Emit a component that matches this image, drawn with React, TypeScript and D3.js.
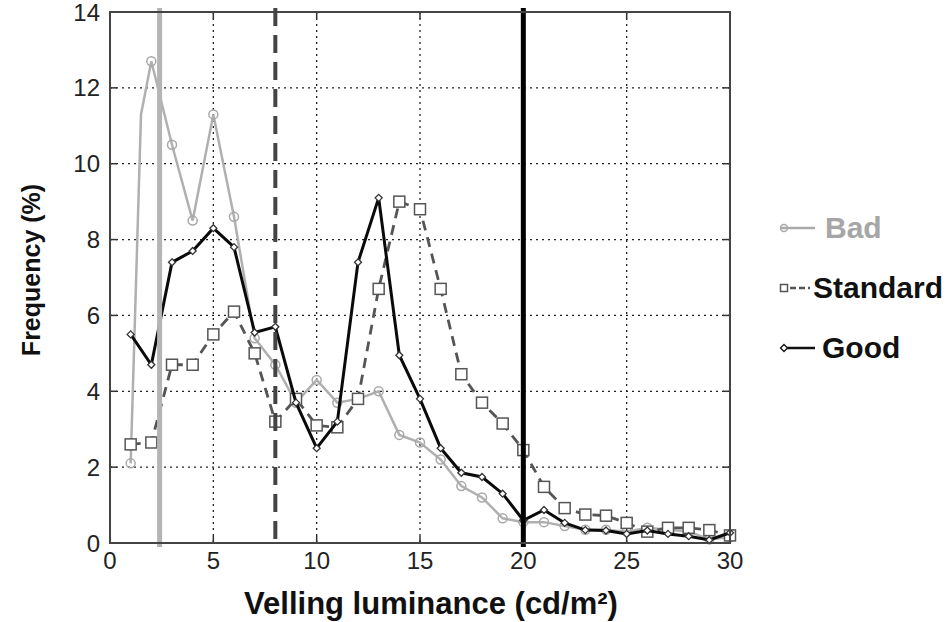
import React from "react";
import * as d3 from "d3";

// x positions (cd/m2) and frequencies (%)
const xs = [1, 2, 3, 4, 5, 6, 7, 8, 9, 10, 11, 12, 13, 14, 15, 16, 17, 18, 19, 20, 21, 22, 23, 24, 25, 26, 27, 28, 29, 30];

const bad = [2.1, 12.7, 10.5, 8.5, 11.3, 8.6, 5.4, 4.7, 3.7, 4.3, 3.7, 3.8, 4.0, 2.85, 2.65, 2.2, 1.5, 1.2, 0.65, 0.55, 0.55, 0.45, 0.35, 0.35, 0.3, 0.4, 0.35, 0.3, 0.1, 0.15];
const standard = [2.6, 2.65, 4.7, 4.7, 5.5, 6.1, 5.0, 3.2, 3.8, 3.1, 3.05, 3.8, 6.7, 9.0, 8.8, 6.7, 4.45, 3.7, 3.15, 2.45, 1.48, 0.92, 0.75, 0.72, 0.53, 0.3, 0.4, 0.4, 0.34, 0.2];
const good = [5.5, 4.7, 7.4, 7.7, 8.3, 7.8, 5.55, 5.7, 3.7, 2.5, 3.2, 7.4, 9.1, 4.95, 3.8, 2.5, 1.85, 1.74, 1.3, 0.6, 0.87, 0.53, 0.34, 0.33, 0.24, 0.33, 0.24, 0.18, 0.08, 0.27];

// the steep rise of "Bad" between 1 and 2 has one extra vertex
const badRise = { x: 1.5, y: 11.3 };

const xTicks = [0, 5, 10, 15, 20, 25, 30];
const yTicks = [0, 2, 4, 6, 8, 10, 12, 14];
const thresholds = [
  { x: 2.4, color: "#b4b4b4", dash: "", width: 5 },
  { x: 8, color: "#444", dash: "18,9", width: 4 },
  { x: 20, color: "#000", dash: "", width: 5 },
];

const legend = [
  { name: "Bad", color: "#aaaaaa", text: "#a6a6a6", dash: "", marker: "circle" },
  { name: "Standard", color: "#555", text: "#111", dash: "6,3", marker: "square" },
  { name: "Good", color: "#111", text: "#111", dash: "", marker: "diamond" },
];

const W = 948;
const H = 622;
const m = { l: 110, r: 218, t: 12, b: 79 };

const x = d3.scaleLinear().domain([0, 30]).range([m.l, W - m.r]);
const y = d3.scaleLinear().domain([0, 14]).range([H - m.b, m.t]);

const line = d3
  .line<{ x: number; y: number }>()
  .x((d) => x(d.x))
  .y((d) => y(d.y));

const pts = (vals: number[]) => xs.map((v, i) => ({ x: v, y: vals[i] }));

const Marker = ({ kind, cx, cy, color, r }: any) => {
  if (kind === "circle")
    return <circle cx={cx} cy={cy} r={r} fill="none" stroke={color} strokeWidth={1.5} />;
  if (kind === "square")
    return (
      <rect x={cx - r} y={cy - r} width={2 * r} height={2 * r} fill="white" stroke={color} strokeWidth={1.5} />
    );
  return (
    <path
      d={`M${cx},${cy - r}L${cx + r},${cy}L${cx},${cy + r}L${cx - r},${cy}Z`}
      fill="white"
      stroke={color}
      strokeWidth={1.3}
    />
  );
};

export default function App() {
  const badPts = pts(bad);
  badPts.splice(1, 0, badRise);
  const stdPts = pts(standard);
  const goodPts = pts(good);
  const font = "'Liberation Sans', Arial, sans-serif";

  return (
    <svg
      width={W}
      height={H}
      style={{ position: "absolute", left: 0, top: 0, background: "white" }}
      fontFamily={font}
    >
      {/* grid */}
      <g stroke="#222" strokeWidth={1.3} strokeDasharray="2,4">
        {xTicks.slice(1, -1).map((t) => (
          <line key={"gx" + t} x1={x(t)} x2={x(t)} y1={y(14)} y2={y(0)} />
        ))}
        {yTicks.slice(1, -1).map((t) => (
          <line key={"gy" + t} x1={x(0)} x2={x(30)} y1={y(t)} y2={y(t)} />
        ))}
      </g>

      {/* tick marks */}
      <g stroke="#333" strokeWidth={1.5}>
        {xTicks.map((t) => (
          <g key={"tx" + t}>
            <line x1={x(t)} x2={x(t)} y1={y(0)} y2={y(0) - 7} />
            <line x1={x(t)} x2={x(t)} y1={y(14)} y2={y(14) + 7} />
          </g>
        ))}
        {yTicks.map((t) => (
          <g key={"ty" + t}>
            <line x1={x(0)} x2={x(0) + 7} y1={y(t)} y2={y(t)} />
            <line x1={x(30)} x2={x(30) - 7} y1={y(t)} y2={y(t)} />
          </g>
        ))}
      </g>

      {/* series */}
      <path d={line(badPts) || ""} fill="none" stroke="#b0b0b0" strokeWidth={2.5} />
      {pts(bad).map((p) => (
        <Marker key={"b" + p.x} kind="circle" cx={x(p.x)} cy={y(p.y)} r={4.5} color="#a8a8a8" />
      ))}
      <path d={line(stdPts) || ""} fill="none" stroke="#555" strokeWidth={2.8} strokeDasharray="10,7" />
      {stdPts.map((p) => (
        <Marker key={"s" + p.x} kind="square" cx={x(p.x)} cy={y(p.y)} r={5.5} color="#555" />
      ))}
      <path d={line(goodPts) || ""} fill="none" stroke="#0a0a0a" strokeWidth={3} />
      {goodPts.map((p) => (
        <Marker key={"g" + p.x} kind="diamond" cx={x(p.x)} cy={y(p.y)} r={3.5} color="#333" />
      ))}

      {/* threshold lines */}
      {thresholds.map((t) => (
        <line
          key={"th" + t.x}
          x1={x(t.x)}
          x2={x(t.x)}
          y1={y(14) - 4}
          y2={y(0) + 4}
          stroke={t.color}
          strokeWidth={t.width}
          strokeDasharray={t.dash}
        />
      ))}

      {/* frame */}
      <rect x={x(0)} y={y(14)} width={x(30) - x(0)} height={y(0) - y(14)} fill="none" stroke="#444" strokeWidth={2} />

      {/* tick labels */}
      <g fontSize={24} fill="#222">
        {xTicks.map((t) => (
          <text key={"lx" + t} x={x(t)} y={y(0) + 26} textAnchor="middle">
            {t}
          </text>
        ))}
        {yTicks.map((t) => (
          <text key={"ly" + t} x={x(0) - 10} y={y(t) + 8.5} textAnchor="end">
            {t}
          </text>
        ))}
      </g>

      {/* axis titles */}
      <text x={431} y={614} textAnchor="middle" fontSize={31} fontWeight="bold" fill="#111">
        Velling luminance (cd/m²)
      </text>
      <text
        transform={`translate(40,${270}) rotate(-90)`}
        textAnchor="middle"
        fontSize={25}
        fontWeight="bold"
        fill="#111"
      >
        Frequency (%)
      </text>

      {/* legend */}
      {legend.map((l, i) => {
        const ly = 228 + i * 60;
        const tx = [825, 813, 822][i];
        return (
          <g key={l.name}>
            <line x1={781} x2={i === 1 ? 810 : 815} y1={ly} y2={ly} stroke={l.color} strokeWidth={2.5} strokeDasharray={l.dash} />
            <Marker kind={l.marker} cx={784} cy={ly} r={3.5} color={l.color} />
            <text x={tx} y={ly + 10} fontSize={30} fontWeight="bold" fill={l.text}>
              {l.name}
            </text>
          </g>
        );
      })}
    </svg>
  );
}
